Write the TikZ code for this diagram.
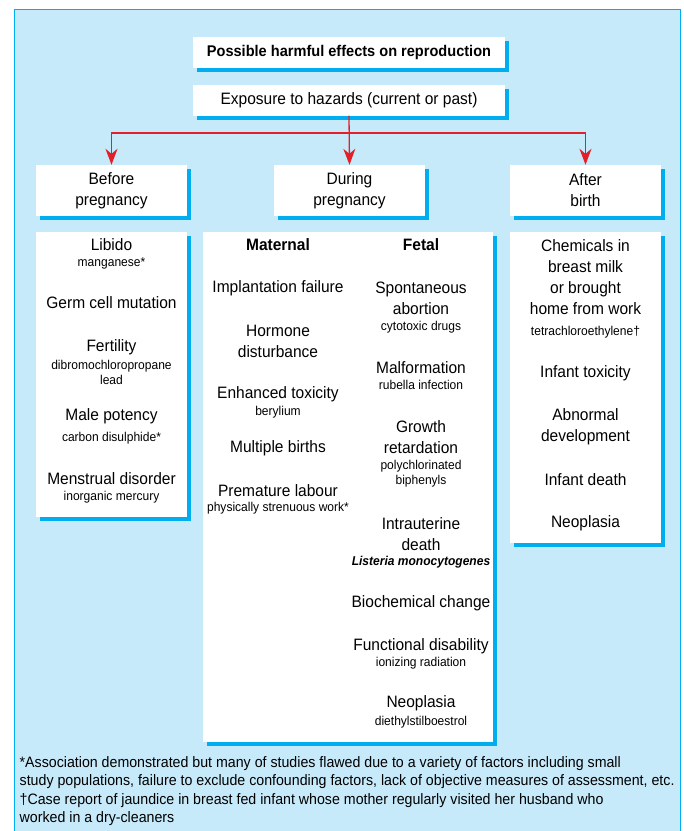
\documentclass[tikz,border=0pt]{standalone}
\usepackage{fontspec}
\setmainfont{Liberation Sans}[FakeStretch=0.94]
\usetikzlibrary{arrows.meta,shadows}
\definecolor{panel}{RGB}{199,234,250}
\definecolor{edge}{RGB}{0,174,239}
\definecolor{arrowred}{RGB}{230,30,40}
\tikzset{
  card/.style={fill=white, inner sep=0pt,
    drop shadow={shadow xshift=3.5pt, shadow yshift=-4pt, fill=edge, opacity=1}},
  big/.style={font=\fontsize{16.5}{21}\selectfont, align=center, inner sep=0pt},
  small/.style={font=\fontsize{12.8}{15}\selectfont, align=center, inner sep=0pt},
  link/.style={draw=arrowred, line width=1.3pt, -{Stealth[length=16pt,width=12pt,inset=5pt]}},
}
\begin{document}
\begin{tikzpicture}[x=1pt, y=-1pt]
	\useasboundingbox (0,0) rectangle (684,831);
	% background panel
	\draw[edge, fill=panel, line width=1.2pt] (14.5,840) -- (14.5,9.5) -- (680.5,9.5) -- (680.5,840);
	% header boxes
	\node[card, big, font=\fontsize{15.5}{19}\selectfont\bfseries, minimum width=312pt, minimum height=31pt] (title) at (349,52.5) {Possible harmful effects on reproduction};
	\node[card, big, minimum width=312pt, minimum height=31pt] (expo) at (349,100) {Exposure to hazards (current or past)};
	\node[card, big, minimum width=151pt, minimum height=51pt] (before) at (111.5,190.5) {Before\\pregnancy};
	\node[card, big, minimum width=151pt, minimum height=51pt] (during) at (349.5,190.5) {During\\pregnancy};
	\node[card, big, minimum width=151pt, minimum height=51pt] (after) at (585.5,190.5) {After\\birth};
	% connectors
	\coordinate (split) at (349.5,133);
	\draw[link] (expo.south) -- (during.north);
	\draw[link] (split) -| (before.north);
	\draw[link] (split) -| (after.north);
	% content boxes
	\node[card, minimum width=151pt, minimum height=285pt] (prebox) at (111.5,374.5) {};
	\node[card, minimum width=290pt, minimum height=510pt] (durbox) at (348,487) {};
	\node[card, minimum width=151pt, minimum height=311pt] (postbox) at (585.5,387.5) {};
	% before pregnancy
	\node[big] (libido) at (111.5,245) {Libido};
	\node[small] (mn) at (111.5,263) {manganese*};
	\node[big] (germ) at (111.5,303) {Germ cell mutation};
	\node[big] (fert) at (111.5,347) {Fertility};
	\node[small] (dbcp) at (111.5,372.5) {dibromochloropropane\\lead};
	\node[big] (male) at (111.5,416) {Male potency};
	\node[small] (cs) at (111.5,438) {carbon disulphide*};
	\node[big] (mens) at (111.5,479) {Menstrual disorder};
	\node[small] (hg) at (111.5,497) {inorganic mercury};
	% during pregnancy, maternal
	\node[big, font=\fontsize{16.5}{21}\selectfont\bfseries] (mat) at (278,245) {Maternal};
	\node[big] (implant) at (278,288) {Implantation failure};
	\node[big] (hormone) at (278,341.5) {Hormone\\disturbance};
	\node[big] (enh) at (278,394) {Enhanced toxicity};
	\node[small] (be) at (278,412) {berylium};
	\node[big] (multi) at (278,448) {Multiple births};
	\node[big] (prem) at (278,491) {Premature labour};
	\node[small] (work) at (278,508) {physically strenuous work*};
	% during pregnancy, fetal
	\node[big, font=\fontsize{16.5}{21}\selectfont\bfseries] (fet) at (421,245) {Fetal};
	\node[big] (spont) at (421,298.5) {Spontaneous\\abortion};
	\node[small] (cyto) at (421,327) {cytotoxic drugs};
	\node[big] (malf) at (421,368) {Malformation};
	\node[small] (rub) at (421,385) {rubella infection};
	\node[big] (growth) at (421,437.5) {Growth\\retardation};
	\node[small] (pcb) at (421,473.5) {polychlorinated\\biphenyls};
	\node[big] (iud) at (421,534) {Intrauterine\\death};
	\node[small, font=\fontsize{12.8}{15}\selectfont\bfseries\itshape] (list) at (421,562) {Listeria monocytogenes};
	\node[big] (bio) at (421,603) {Biochemical change};
	\node[big] (func) at (421,646) {Functional disability};
	\node[small] (ion) at (421,663) {ionizing radiation};
	\node[big] (neo) at (421,703) {Neoplasia};
	\node[small] (des) at (421,722) {diethylstilboestrol};
	% after birth
	\node[big] (chem) at (585.5,277) {Chemicals in\\breast milk\\or brought\\home from work};
	\node[small] (tce) at (585.5,332) {tetrachloroethylene†};
	\node[big] (inftox) at (585.5,373) {Infant toxicity};
	\node[big] (abn) at (585.5,426.5) {Abnormal\\development};
	\node[big] (death) at (585.5,480) {Infant death};
	\node[big] (neo2) at (585.5,523) {Neoplasia};
	% footnotes
	\node[anchor=north west, inner sep=0pt, align=left, font=\fontsize{15.1}{18.5}\selectfont] (notes) at (19.5,756) {*Association demonstrated but many of studies flawed due to a variety of factors including small\\
	study populations, failure to exclude confounding factors, lack of objective measures of assessment, etc.\\
	†Case report of jaundice in breast fed infant whose mother regularly visited her husband who\\
	worked in a dry-cleaners};
\end{tikzpicture}
\end{document}
